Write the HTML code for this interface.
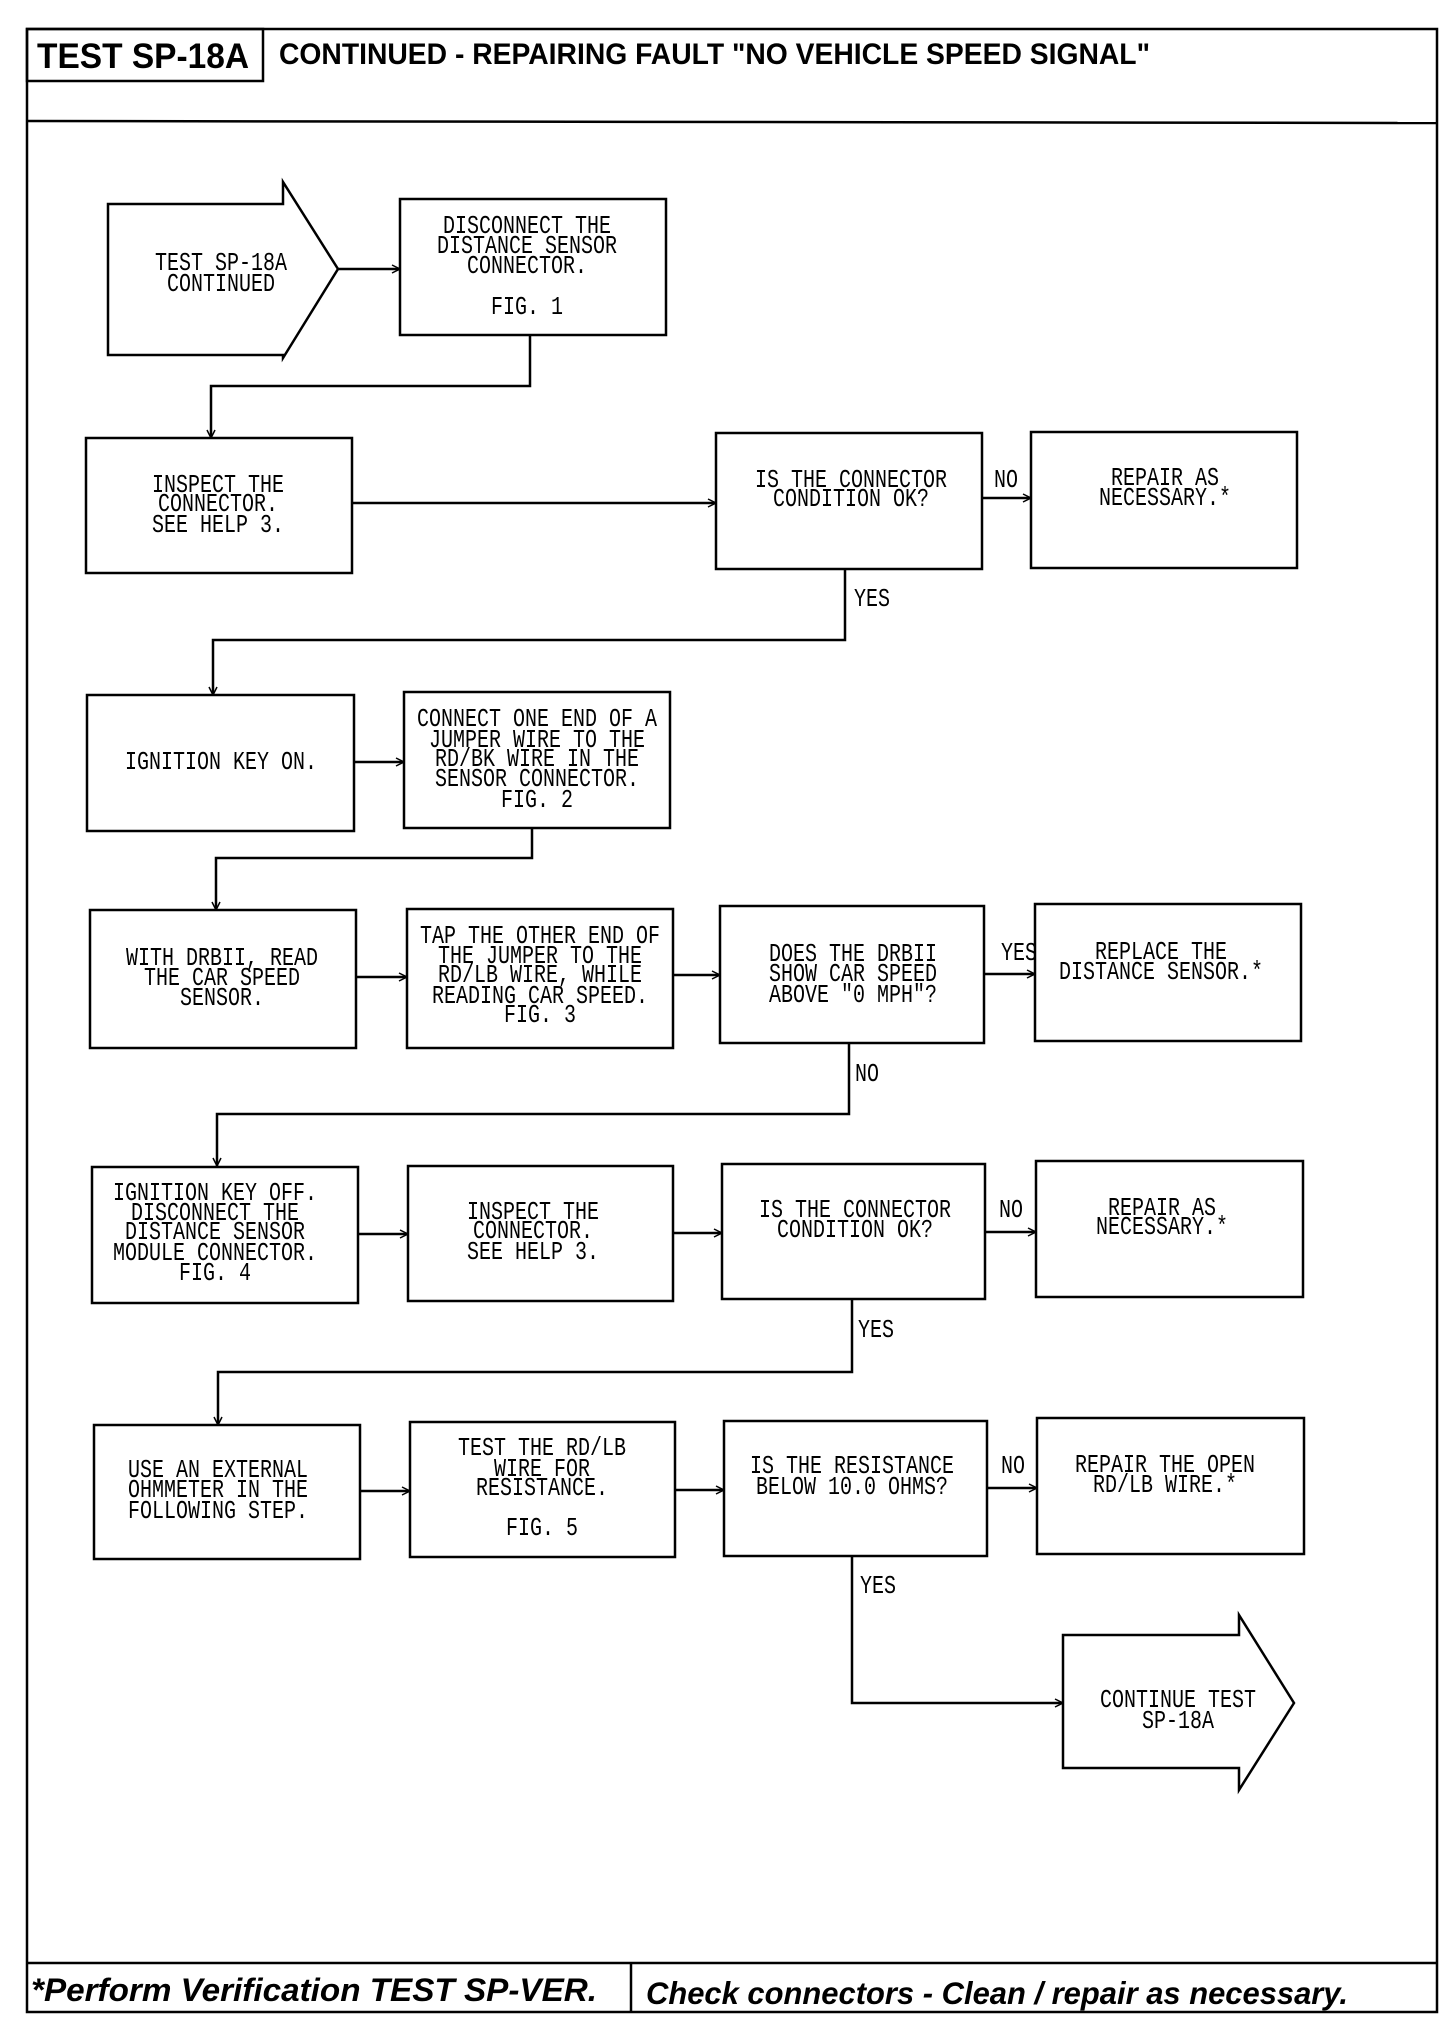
<!DOCTYPE html>
<html><head><meta charset="utf-8"><style>
html,body{margin:0;padding:0;background:#fff;}
svg{display:block;}
.t{font-family:"Liberation Mono",monospace;font-size:20px;fill:#000;}
</style></head><body>
<svg width="1456" height="2042" viewBox="0 0 1456 2042" xmlns="http://www.w3.org/2000/svg">
<defs>
<marker id="a" markerWidth="10" markerHeight="10" refX="9" refY="5" orient="auto" markerUnits="userSpaceOnUse">
<path d="M1,1 L9,5 L1,9" fill="none" stroke="#000" stroke-width="1.5"/>
</marker>
</defs>
<g fill="none" stroke="#000" stroke-width="2.5">
<rect x="27" y="29" width="1410" height="1983"/>
<line x1="27" y1="121" x2="1437" y2="123"/>
<rect x="27" y="29" width="236" height="52"/>
<line x1="27" y1="1963" x2="1437" y2="1963"/>
<line x1="631" y1="1963" x2="631" y2="2012"/>
<path d="M108,204 L283,204 L283,182 L338,269 L283,358 L283,355 L108,355 Z"/>
<path d="M1063,1635 L1239,1635 L1239,1615 L1294,1703 L1239,1790 L1239,1768 L1063,1768 Z"/>
<rect x="400" y="199" width="266" height="136"/>
<rect x="86" y="438" width="266" height="135"/>
<rect x="716" y="433" width="266" height="136"/>
<rect x="1031" y="432" width="266" height="136"/>
<rect x="87" y="695" width="267" height="136"/>
<rect x="404" y="692" width="266" height="136"/>
<rect x="90" y="910" width="266" height="138"/>
<rect x="407" y="909" width="266" height="139"/>
<rect x="720" y="906" width="264" height="137"/>
<rect x="1035" y="904" width="266" height="137"/>
<rect x="92" y="1167" width="266" height="136"/>
<rect x="408" y="1166" width="265" height="135"/>
<rect x="722" y="1164" width="263" height="135"/>
<rect x="1036" y="1161" width="267" height="136"/>
<rect x="94" y="1425" width="266" height="134"/>
<rect x="410" y="1422" width="265" height="135"/>
<rect x="724" y="1421" width="263" height="135"/>
<rect x="1037" y="1418" width="267" height="136"/>
</g>
<g fill="none" stroke="#000" stroke-width="2.5" marker-end="url(#a)">
<line x1="338" y1="269" x2="400" y2="269"/>
<polyline points="530,335 530,386 211,386 211,438"/>
<line x1="352" y1="503" x2="716" y2="503"/>
<line x1="982" y1="498" x2="1031" y2="498"/>
<polyline points="845,569 845,640 213,640 213,695"/>
<line x1="354" y1="762" x2="404" y2="762"/>
<polyline points="532,828 532,858 216,858 216,910"/>
<line x1="356" y1="977" x2="407" y2="977"/>
<line x1="673" y1="975" x2="720" y2="975"/>
<line x1="984" y1="974" x2="1035" y2="974"/>
<polyline points="849,1043 849,1114 217,1114 217,1166"/>
<line x1="358" y1="1234" x2="408" y2="1234"/>
<line x1="673" y1="1233" x2="722" y2="1233"/>
<line x1="985" y1="1232" x2="1036" y2="1232"/>
<polyline points="852,1299 852,1372 218,1372 218,1425"/>
<line x1="360" y1="1491" x2="410" y2="1491"/>
<line x1="675" y1="1490" x2="724" y2="1490"/>
<line x1="987" y1="1488" x2="1037" y2="1488"/>
<polyline points="852,1556 852,1703 1063,1703"/>
</g>
<g font-family="Liberation Sans, sans-serif" font-weight="bold" fill="#000">
<text transform="translate(37,68) scale(1,1.25)" font-size="28" textLength="212" lengthAdjust="spacingAndGlyphs">TEST SP-18A</text>
<text transform="translate(279,64) scale(1,1.25)" font-size="24" textLength="871" lengthAdjust="spacingAndGlyphs">CONTINUED - REPAIRING FAULT "NO VEHICLE SPEED SIGNAL"</text>
<text transform="translate(31,2001) scale(1,1.3)" font-size="25" font-style="italic" textLength="566" lengthAdjust="spacingAndGlyphs">*Perform Verification TEST SP-VER.</text>
<text transform="translate(646,2004) scale(1,1.3)" font-size="24" font-style="italic" textLength="702" lengthAdjust="spacingAndGlyphs">Check connectors - Clean / repair as necessary.</text>
</g>
<g class="t" text-anchor="middle">
<text transform="translate(221,270) scale(1,1.3)">TEST SP-18A</text>
<text transform="translate(221,291) scale(1,1.3)">CONTINUED</text>
<text transform="translate(527,233) scale(1,1.3)">DISCONNECT THE</text>
<text transform="translate(527,253) scale(1,1.3)">DISTANCE SENSOR</text>
<text transform="translate(527,273) scale(1,1.3)">CONNECTOR.</text>
<text transform="translate(527,314) scale(1,1.3)">FIG. 1</text>
<text transform="translate(218,492) scale(1,1.3)">INSPECT THE</text>
<text transform="translate(218,511) scale(1,1.3)">CONNECTOR.</text>
<text transform="translate(218,532) scale(1,1.3)">SEE HELP 3.</text>
<text transform="translate(851,487) scale(1,1.3)">IS THE CONNECTOR</text>
<text transform="translate(851,506) scale(1,1.3)">CONDITION OK?</text>
<text transform="translate(1165,485) scale(1,1.3)">REPAIR AS</text>
<text transform="translate(1165,505) scale(1,1.3)">NECESSARY.*</text>
<text transform="translate(221,769) scale(1,1.3)">IGNITION KEY ON.</text>
<text transform="translate(537,726) scale(1,1.3)">CONNECT ONE END OF A</text>
<text transform="translate(537,747) scale(1,1.3)">JUMPER WIRE TO THE</text>
<text transform="translate(537,766) scale(1,1.3)">RD/BK WIRE IN THE</text>
<text transform="translate(537,786) scale(1,1.3)">SENSOR CONNECTOR.</text>
<text transform="translate(537,807) scale(1,1.3)">FIG. 2</text>
<text transform="translate(222,965) scale(1,1.3)">WITH DRBII, READ</text>
<text transform="translate(222,985) scale(1,1.3)">THE CAR SPEED</text>
<text transform="translate(222,1005) scale(1,1.3)">SENSOR.</text>
<text transform="translate(540,943) scale(1,1.3)">TAP THE OTHER END OF</text>
<text transform="translate(540,963) scale(1,1.3)">THE JUMPER TO THE</text>
<text transform="translate(540,982) scale(1,1.3)">RD/LB WIRE, WHILE</text>
<text transform="translate(540,1003) scale(1,1.3)">READING CAR SPEED.</text>
<text transform="translate(540,1022) scale(1,1.3)">FIG. 3</text>
<text transform="translate(853,961) scale(1,1.3)">DOES THE DRBII</text>
<text transform="translate(853,981) scale(1,1.3)">SHOW CAR SPEED</text>
<text transform="translate(853,1002) scale(1,1.3)">ABOVE "0 MPH"?</text>
<text transform="translate(1161,959) scale(1,1.3)">REPLACE THE</text>
<text transform="translate(1161,979) scale(1,1.3)">DISTANCE SENSOR.*</text>
<text transform="translate(215,1200) scale(1,1.3)">IGNITION KEY OFF.</text>
<text transform="translate(215,1220) scale(1,1.3)">DISCONNECT THE</text>
<text transform="translate(215,1239) scale(1,1.3)">DISTANCE SENSOR</text>
<text transform="translate(215,1260) scale(1,1.3)">MODULE CONNECTOR.</text>
<text transform="translate(215,1280) scale(1,1.3)">FIG. 4</text>
<text transform="translate(533,1219) scale(1,1.3)">INSPECT THE</text>
<text transform="translate(533,1238) scale(1,1.3)">CONNECTOR.</text>
<text transform="translate(533,1259) scale(1,1.3)">SEE HELP 3.</text>
<text transform="translate(855,1217) scale(1,1.3)">IS THE CONNECTOR</text>
<text transform="translate(855,1237) scale(1,1.3)">CONDITION OK?</text>
<text transform="translate(1162,1215) scale(1,1.3)">REPAIR AS</text>
<text transform="translate(1162,1234) scale(1,1.3)">NECESSARY.*</text>
<text transform="translate(218,1477) scale(1,1.3)">USE AN EXTERNAL</text>
<text transform="translate(218,1497) scale(1,1.3)">OHMMETER IN THE</text>
<text transform="translate(218,1518) scale(1,1.3)">FOLLOWING STEP.</text>
<text transform="translate(542,1455) scale(1,1.3)">TEST THE RD/LB</text>
<text transform="translate(542,1476) scale(1,1.3)">WIRE FOR</text>
<text transform="translate(542,1495) scale(1,1.3)">RESISTANCE.</text>
<text transform="translate(542,1535) scale(1,1.3)">FIG. 5</text>
<text transform="translate(852,1473) scale(1,1.3)">IS THE RESISTANCE</text>
<text transform="translate(852,1494) scale(1,1.3)">BELOW 10.0 OHMS?</text>
<text transform="translate(1165,1472) scale(1,1.3)">REPAIR THE OPEN</text>
<text transform="translate(1165,1492) scale(1,1.3)">RD/LB WIRE.*</text>
<text transform="translate(1178,1707) scale(1,1.3)">CONTINUE TEST</text>
<text transform="translate(1178,1728) scale(1,1.3)">SP-18A</text>
</g>
<g class="t">
<text transform="translate(994,487) scale(1,1.3)">NO</text>
<text transform="translate(854,606) scale(1,1.3)">YES</text>
<text transform="translate(1001,960) scale(1,1.3)">YES</text>
<text transform="translate(855,1081) scale(1,1.3)">NO</text>
<text transform="translate(999,1217) scale(1,1.3)">NO</text>
<text transform="translate(858,1337) scale(1,1.3)">YES</text>
<text transform="translate(1001,1473) scale(1,1.3)">NO</text>
<text transform="translate(860,1593) scale(1,1.3)">YES</text>
</g>
</svg>
</body></html>
